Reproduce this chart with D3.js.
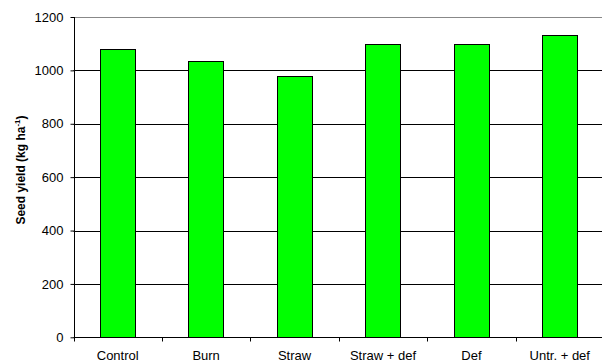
<!DOCTYPE html>
<html><head><meta charset="utf-8">
<script src="https://cdn.jsdelivr.net/npm/d3@7"></script>
<style>body{margin:0;background:#fff}svg{display:block;font-family:"Liberation Sans",Arial,sans-serif}</style>
</head><body><svg id="c" width="602" height="363"></svg>
<script>
const categories = ["Control","Burn","Straw","Straw + def","Def","Untr. + def"];
const yieldValues = [1080,1036,979,1098,1098,1131];
const yTicks = [0,200,400,600,800,1000,1200];

(function(){
const svg = d3.select("#c");
const mLeft = 73.5, mRight = 604, mTop = 17, mBottom = 337.3;
const x = d3.scaleBand().domain(categories).range([mLeft, mRight]).paddingInner(0.6).paddingOuter(0.3);
const xb = d3.scaleBand().domain(categories).range([mLeft, mRight]);
const y = d3.scaleLinear().domain([0,1200]).range([mBottom, mTop]);
const FONT = "Liberation Sans, Arial, sans-serif";

// gridlines
svg.append("g").selectAll("line").data(yTicks.filter(d=>d>0)).join("line")
  .attr("x1", mLeft).attr("x2", mRight)
  .attr("y1", d=>Math.round(y(d))+0.5).attr("y2", d=>Math.round(y(d))+0.5)
  .attr("stroke", d=>d===1200?"#888":"#000").attr("stroke-width",1);

// bars
svg.append("g").selectAll("rect").data(categories).join("rect")
  .attr("x", d=>Math.round(x(d))+0.5)
  .attr("y", (d,i)=>Math.round(y(yieldValues[i]))+0.5)
  .attr("width", Math.round(x.bandwidth()))
  .attr("height", (d,i)=>Math.round(y(0))-Math.round(y(yieldValues[i])))
  .attr("fill","#00ff00").attr("stroke","#000").attr("stroke-width",1);

// y axis
const ya = svg.append("g").attr("transform",`translate(${Math.round(mLeft)+0.5},0)`)
  .call(d3.axisLeft(y).tickValues(yTicks).tickFormat(d3.format("d")).tickSize(4).tickPadding(7));
ya.select(".domain").attr("d", `M0,${y(1200)}V${y(0)}`).attr("stroke","#000");
ya.selectAll(".tick line").attr("stroke","#000");
ya.selectAll("text").attr("font-size","13px").attr("fill","#000").attr("font-family",FONT);

// x axis
const xa = svg.append("g").attr("transform",`translate(0,${Math.round(mBottom)+0.5})`)
  .call(d3.axisBottom(xb).tickSize(0).tickPadding(0));
xa.select(".domain").attr("d", `M${mLeft},0H${mRight}`).attr("stroke","#000");
xa.selectAll("text").attr("font-size","13px").attr("fill","#000").attr("font-family",FONT)
  .attr("dy",null).attr("y",22.5);
// ticks between categories
svg.append("g").selectAll("line").data(categories).join("line")
  .attr("x1", d=>Math.round(xb(d))+0.5).attr("x2", d=>Math.round(xb(d))+0.5)
  .attr("y1", Math.round(mBottom)+0.5).attr("y2", Math.round(mBottom)+4.5)
  .attr("stroke","#000");

// y label
const lab = svg.append("text")
  .attr("transform", `translate(25,170) rotate(-90)`)
  .attr("text-anchor","middle").attr("font-size","12px").attr("font-weight","bold").attr("font-family",FONT);
lab.append("tspan").text("Seed yield (kg ha");
lab.append("tspan").attr("dy","-5").attr("font-size","8px").text("-1");
lab.append("tspan").attr("dy","5").text(")");
})();
</script></body></html>
